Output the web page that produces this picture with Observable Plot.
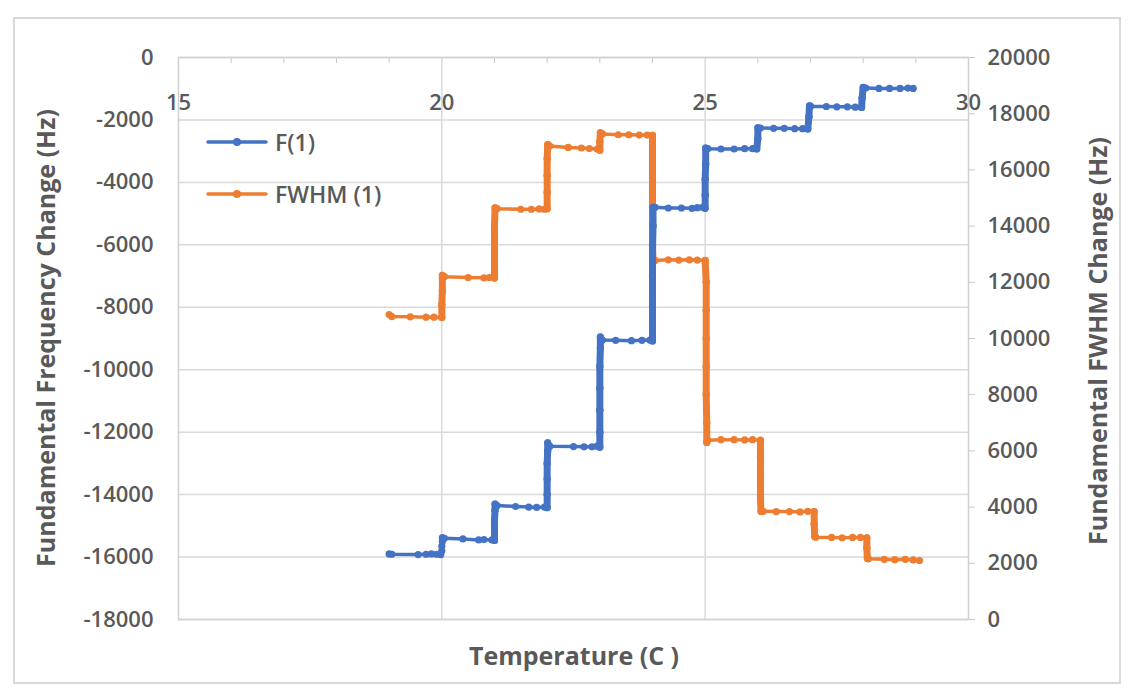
<!DOCTYPE html>
<html>
<head>
<meta charset="utf-8">
<script src="https://cdn.jsdelivr.net/npm/d3@7"></script>
<script src="https://cdn.jsdelivr.net/npm/@observablehq/plot@0.6"></script>
<style>
  body { margin: 0; background: #fff; font-family: "Open Sans", "Noto Sans", sans-serif; color: #595959; }
  #wrap { position: relative; width: 1136px; height: 694px; overflow: hidden; }
  #chart { position: absolute; left: 0; top: 0; }
  #border { position: absolute; left: 13px; top: 17px; width: 1104px; height: 663px; border: 2px solid #d9d9d9; pointer-events: none; }
  .title { position: absolute; font-weight: 700; font-size: 25px; color: #595959; white-space: nowrap; line-height: 1; }
  .rot { transform: translate(-50%, -50%) rotate(-90deg); }
  #legend { position: absolute; left: 206px; top: 124px; font-size: 23px; font-weight: 600; color: #595959; }
  .item { display: flex; align-items: center; height: 35px; margin-bottom: 17px; }
  .item svg { margin-right: 7px; }
</style>
</head>
<body>
<div id="wrap">
  <div id="chart"></div>
  <div id="border"></div>
  <div class="title" style="left:574px; top:655px; transform: translate(-50%,-50%);">Temperature (C )</div>
  <div class="title rot" style="left:45px; top:338px;">Fundamental Frequency Change (Hz)</div>
  <div class="title rot" style="left:1097px; top:341px;">Fundamental FWHM Change (Hz)</div>
  <div id="legend"></div>
</div>
<script>
// ---- Data ----
const seriesNames = ["F(1)", "FWHM (1)"];
const seriesColors = ["#4472C4", "#ED7D31"];

// F(1): temperature (C) and frequency change (Hz), left axis
const fTemp = [
  19.00, 19.05, 19.55, 19.70, 19.80, 19.90, 19.98,
  20.00, 20.00, 20.01, 20.01,
  20.05, 20.40, 20.70, 20.80, 20.95, 21.00,
  21.00, 21.00, 21.01, 21.01,
  21.05, 21.40, 21.65, 21.80, 21.95, 22.00,
  22.00, 22.00, 22.00, 22.01, 22.01,
  22.05, 22.50, 22.70, 22.85, 22.95, 23.00,
  23.00, 23.00, 23.00, 23.00, 23.01, 23.01,
  23.05, 23.30, 23.60, 23.80, 23.95, 24.00,
  24.00, 24.00, 24.00, 24.00, 24.01, 24.01,
  24.05, 24.30, 24.55, 24.75, 24.85, 24.95, 25.00,
  25.00, 25.00, 25.01, 25.01,
  25.05, 25.30, 25.55, 25.75, 25.90, 25.98,
  26.00, 26.00,
  26.05, 26.30, 26.50, 26.70, 26.85, 26.95,
  26.97, 26.98,
  27.00, 27.30, 27.50, 27.70, 27.85, 27.97,
  27.98, 28.00,
  28.05, 28.30, 28.50, 28.70, 28.85, 28.95
];
const fVal = [
  -15900, -15910, -15920, -15910, -15900, -15910, -15920,
  -15800, -15650, -15500, -15380,
  -15400, -15420, -15450, -15440, -15450, -15470,
  -15100, -14800, -14500, -14300,
  -14350, -14380, -14400, -14410, -14400, -14420,
  -14000, -13500, -13000, -12600, -12340,
  -12450, -12460, -12470, -12470, -12450, -12480,
  -12000, -11300, -10600, -9900, -9300, -8950,
  -9050, -9060, -9070, -9060, -9050, -9080,
  -8600, -7800, -7000, -6200, -5400, -4800,
  -4800, -4820, -4820, -4830, -4810, -4800, -4830,
  -4400, -3900, -3400, -2900,
  -2920, -2930, -2930, -2920, -2920, -2930,
  -2600, -2250,
  -2260, -2270, -2270, -2280, -2280, -2290,
  -1900, -1550,
  -1560, -1570, -1580, -1580, -1590, -1600,
  -1300, -960,
  -980, -990, -990, -990, -980, -990
];

// FWHM (1): temperature (C) and FWHM change (Hz), right axis
const wTemp = [
  19.00, 19.05, 19.40, 19.70, 19.85, 20.00,
  20.00, 20.01, 20.01,
  20.05, 20.50, 20.80, 20.90, 21.00,
  21.00, 21.00, 21.00, 21.01,
  21.05, 21.50, 21.70, 21.85, 21.95, 22.00,
  22.00, 22.00, 22.00, 22.01,
  22.05, 22.40, 22.65, 22.80, 22.95, 23.00,
  23.00, 23.01,
  23.05, 23.35, 23.55, 23.75, 23.90, 24.00,
  24.00, 24.00, 24.00, 24.00, 24.00, 24.01,
  24.05, 24.30, 24.50, 24.70, 24.85, 25.00,
  25.02, 25.02, 25.02, 25.02, 25.02, 25.03, 25.03,
  25.05, 25.30, 25.55, 25.75, 25.90, 26.05,
  26.05, 26.05, 26.05, 26.06,
  26.10, 26.35, 26.60, 26.80, 26.95, 27.07,
  27.07, 27.08,
  27.10, 27.40, 27.60, 27.80, 27.95, 28.07,
  28.07, 28.08,
  28.10, 28.40, 28.60, 28.80, 28.95, 29.07
];
const wVal = [
  10850, 10780, 10770, 10760, 10760, 10750,
  11200, 11700, 12250,
  12200, 12170, 12160, 12170, 12150,
  12800, 13400, 14000, 14650,
  14620, 14600, 14600, 14610, 14600, 14620,
  15200, 15800, 16400, 16900,
  16850, 16800, 16780, 16760, 16740, 16700,
  17000, 17320,
  17280, 17250, 17250, 17240, 17240, 17230,
  16500, 15700, 14900, 14100, 13300, 12800,
  12780, 12800, 12790, 12800, 12790, 12780,
  12000, 11000, 10000, 9000, 8000, 7000, 6300,
  6380, 6400, 6400, 6390, 6400, 6380,
  5800, 5000, 4300, 3850,
  3850, 3840, 3840, 3830, 3850, 3840,
  3400, 2950,
  2930, 2920, 2910, 2920, 2920, 2910,
  2550, 2180,
  2160, 2140, 2130, 2140, 2120, 2100
];

// Axis ticks
const xLabelTicks = [15, 20, 25, 30];
const xMinorTicks = [16, 17, 18, 19, 21, 22, 23, 24, 26, 27, 28, 29];
const xGridTicks = [20, 25];
const leftTicks = [0, -2000, -4000, -6000, -8000, -10000, -12000, -14000, -16000, -18000];
const rightTicks = [0, 2000, 4000, 6000, 8000, 10000, 12000, 14000, 16000, 18000, 20000];

// ---- Build ----
const leftMin = -18000, leftMax = 0, rightMin = 0, rightMax = 20000;
const toLeft = v => leftMin + (v - rightMin) * (leftMax - leftMin) / (rightMax - rightMin);
const fromLeft = y => rightMin + (y - leftMin) * (rightMax - rightMin) / (leftMax - leftMin);

const fData = fTemp.map((t, i) => ({t, v: fVal[i]}));
const wData = wTemp.map((t, i) => ({t, v: toLeft(wVal[i])}));

function jumps(data) {
  const out = [];
  for (let i = 1; i < data.length; i++) {
    const a = data[i - 1], b = data[i];
    if (Math.abs(b.t - a.t) < 0.035 && Math.abs(b.v - a.v) > 150) out.push({t1: a.t, v1: a.v, t2: b.t, v2: b.v});
  }
  return out;
}

const grey = "#d9d9d9";
const textGrey = "#595959";

const plot = Plot.plot({
  width: 1136,
  height: 694,
  marginLeft: 178,
  marginRight: 168,
  marginTop: 57,
  marginBottom: 75,
  style: {fontFamily: "'Open Sans', 'Noto Sans', sans-serif", fontSize: "22px", fontWeight: 600, color: textGrey, background: "transparent"},
  x: {domain: [15, 30]},
  y: {domain: [leftMin, leftMax]},
  marks: [
    Plot.gridY(leftTicks, {stroke: grey, strokeOpacity: 1, strokeWidth: 1.5}),
    Plot.gridX(xGridTicks, {stroke: grey, strokeOpacity: 1, strokeWidth: 1.5}),
    Plot.frame({stroke: "#d0d0d0", strokeWidth: 1.5}),
    Plot.axisX({anchor: "top", ticks: xMinorTicks, tickSize: -5, tickFormat: () => "", stroke: "#c8c8c8", label: null}),
    Plot.text(xLabelTicks, {x: d => d, frameAnchor: "top", dy: 37, text: d => String(d), fill: textGrey, fontSize: 22}),
    Plot.axisY({anchor: "left", ticks: leftTicks, tickSize: 0, tickPadding: 25, tickFormat: d => String(d), label: null, fill: textGrey}),
    Plot.axisY({anchor: "right", ticks: rightTicks.map(toLeft), tickSize: 6, tickPadding: 13, stroke: "#c8c8c8",
      tickFormat: d => String(Math.round(fromLeft(d))), label: null, fill: textGrey}),
    // FWHM series
    Plot.link(jumps(wData), {x1: "t1", y1: "v1", x2: "t2", y2: "v2", stroke: seriesColors[1], strokeWidth: 7, strokeLinecap: "round"}),
    Plot.line(wData, {x: "t", y: "v", stroke: seriesColors[1], strokeWidth: 3.5}),
    Plot.dot(wData, {x: "t", y: "v", r: 3.6, fill: seriesColors[1]}),
    // F series
    Plot.link(jumps(fData), {x1: "t1", y1: "v1", x2: "t2", y2: "v2", stroke: seriesColors[0], strokeWidth: 7, strokeLinecap: "round"}),
    Plot.line(fData, {x: "t", y: "v", stroke: seriesColors[0], strokeWidth: 3.5}),
    Plot.dot(fData, {x: "t", y: "v", r: 3.6, fill: seriesColors[0]})
  ]
});
document.getElementById("chart").appendChild(plot);

// Legend
const legend = document.getElementById("legend");
seriesNames.forEach((name, i) => {
  const item = document.createElement("div");
  item.className = "item";
  item.innerHTML = `<svg width="62" height="10"><line x1="2" y1="5" x2="60" y2="5" stroke="${seriesColors[i]}" stroke-width="3.5" stroke-linecap="round"/><circle cx="31" cy="5" r="4" fill="${seriesColors[i]}"/></svg><span>${name}</span>`;
  legend.appendChild(item);
});
</script>
</body>
</html>
